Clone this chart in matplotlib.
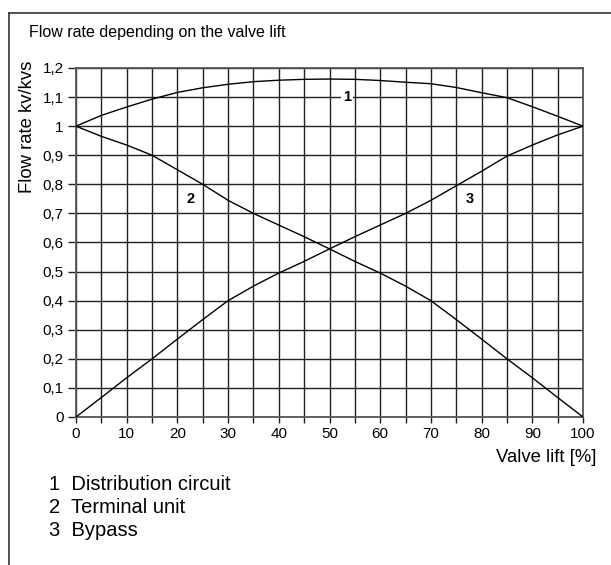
import numpy as np
import matplotlib
matplotlib.use("Agg")
from matplotlib import pyplot as plt
from matplotlib.lines import Line2D

plt.rcParams['font.family'] = ['Liberation Sans', 'DejaVu Sans']

# data
lift = [0, 5, 10, 15, 20, 25, 30, 35, 40, 45, 50, 55, 60, 65, 70, 75, 80, 85, 90, 95, 100]
distribution = [1.0, 1.037, 1.066, 1.093, 1.116, 1.132, 1.144, 1.153, 1.158, 1.161, 1.162, 1.161,
                1.157, 1.151, 1.146, 1.133, 1.115, 1.098, 1.067, 1.034, 1.0]
terminal = [1.0, 0.965, 0.935, 0.9, 0.85, 0.8, 0.745, 0.7, 0.66, 0.62, 0.578, 0.535,
            0.495, 0.45, 0.4, 0.335, 0.268, 0.2, 0.135, 0.067, 0.0]
bypass = [0.0, 0.067, 0.135, 0.2, 0.268, 0.335, 0.4, 0.45, 0.495, 0.535, 0.578, 0.62,
          0.66, 0.70, 0.745, 0.795, 0.845, 0.897, 0.935, 0.97, 1.0]
yticks = [0, 0.1, 0.2, 0.3, 0.4, 0.5, 0.6, 0.7, 0.8, 0.9, 1.0, 1.1, 1.2]
ytick_labels = ['0', '0,1', '0,2', '0,3', '0,4', '0,5', '0,6', '0,7', '0,8', '0,9', '1', '1,1', '1,2']
xticks = [0, 10, 20, 30, 40, 50, 60, 70, 80, 90, 100]
legend_lines = ['1  Distribution circuit', '2  Terminal unit', '3  Bypass']

W, H = 611, 565
fig = plt.figure(figsize=(W / 100, H / 100), dpi=100)
ax = fig.add_axes([76 / W, 1 - 417 / H, (583 - 76) / W, (417 - 68) / H])

ax.set_xlim(0, 100)
ax.set_ylim(0, 1.2)

# grid
ax.set_xticks(np.arange(0, 101, 5), minor=True)
ax.set_xticks(xticks)
ax.set_yticks(yticks)
ax.set_yticklabels(ytick_labels)
ax.grid(True, which='both', color='#222222', lw=1.0)
ax.set_axisbelow(True)
for s in ax.spines.values():
    s.set_color('#555555')
    s.set_linewidth(1.3)
ax.tick_params(axis='y', length=6, width=1, color='#222222', labelsize=11, pad=3)
ax.tick_params(axis='x', which='both', length=4, width=1, color='#222222', labelsize=11, pad=3)

for series in (distribution, terminal, bypass):
    ax.plot(lift, series, color='black', lw=1.0, zorder=3)

# curve labels
ax.text(53.4, 1.1, '1', ha='center', va='center', fontsize=10.5, fontweight='bold',
        bbox=dict(facecolor='white', edgecolor='none', pad=1.5), zorder=4)
ax.text(22.5, 0.75, '2', ha='center', va='center', fontsize=10.5, fontweight='bold', zorder=4)
ax.text(77.7, 0.75, '3', ha='center', va='center', fontsize=10.5, fontweight='bold', zorder=4)

# texts
fig.text(29 / W, 1 - 32 / H, 'Flow rate depending on the valve lift', fontsize=11.5, va='center')
fig.text(28 / W, 1 - 61 / H, 'Flow rate kv/kvs', rotation=90, fontsize=13.3, ha='center', va='top')
fig.text(597 / W, 1 - 457 / H, 'Valve lift [%]', fontsize=13.3, ha='right', va='center')
for i, t in enumerate(legend_lines):
    fig.text(49 / W, 1 - (484 + 23.5 * i) / H, t, fontsize=14.5, va='center')

# frame (left and top)
fig.add_artist(Line2D([9 / W, 9 / W], [0, 1 - 13 / H], transform=fig.transFigure, color='#333333', lw=1.2))
fig.add_artist(Line2D([9 / W, 1], [1 - 13 / H, 1 - 13 / H], transform=fig.transFigure, color='#333333', lw=1.2))

fig.savefig('out.png', dpi=100)
